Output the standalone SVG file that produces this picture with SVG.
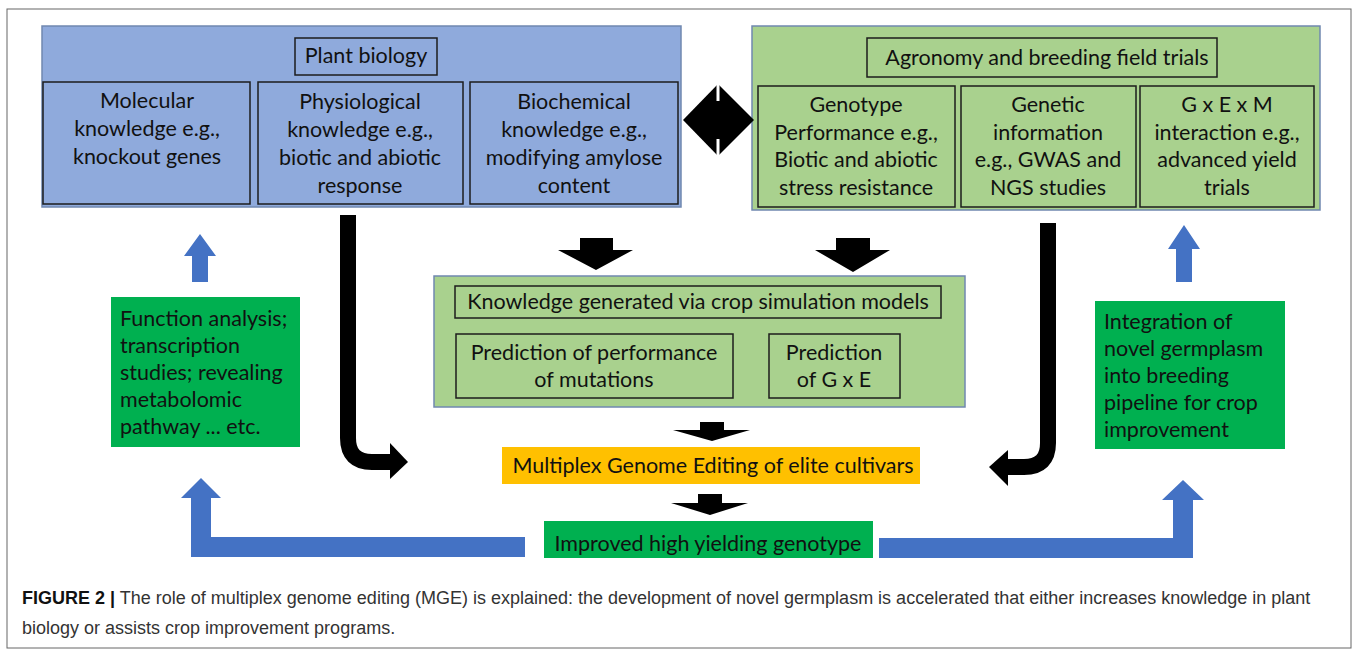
<svg xmlns="http://www.w3.org/2000/svg" width="1358" height="658" viewBox="0 0 1358 658">
<defs>
<style>
.t{font-family:Lato,"Open Sans","Liberation Sans",sans-serif;font-size:21.5px;fill:#111}
.c{text-anchor:middle}
.cap{font-family:"Liberation Sans",Arial,sans-serif;font-size:18px;fill:#333}
.box{stroke:#1c1c1c;stroke-width:1.5;fill:none}
.grp{stroke:#7088b0;stroke-width:1.5}
.blue{fill:#8faadc}
.lg{fill:#a9d18e}
.dg{fill:#00b050}
.blk{fill:#000}
.ba{fill:#4472c4}
</style>
</defs>
<rect x="7" y="9" width="1344" height="639" fill="#fff" stroke="#666" stroke-width="1"/>

<g id="plant-biology">
<rect x="42" y="26" width="639" height="181" class="blue grp"/>
<rect x="295" y="38" width="142" height="37" class="box"/>
<text x="366" y="63" class="t c">Plant biology</text>
</g>
<g id="molecular">
<rect x="43" y="82" width="207" height="122" class="box"/>
<text class="t c"><tspan x="147" y="108">Molecular</tspan><tspan x="147" y="136">knowledge e.g.,</tspan><tspan x="147" y="164">knockout genes</tspan></text>
</g>
<g id="physiological">
<rect x="258" y="82" width="205" height="122" class="box"/>
<text class="t c"><tspan x="360" y="109">Physiological</tspan><tspan x="360" y="137">knowledge e.g.,</tspan><tspan x="360" y="165">biotic and abiotic</tspan><tspan x="360" y="193">response</tspan></text>
</g>
<g id="biochemical">
<rect x="470" y="82" width="208" height="122" class="box"/>
<text class="t c"><tspan x="574" y="109">Biochemical</tspan><tspan x="574" y="137">knowledge e.g.,</tspan><tspan x="574" y="165">modifying amylose</tspan><tspan x="574" y="193">content</tspan></text>
</g>

<g id="agronomy">
<rect x="752" y="26" width="568" height="184" class="lg grp"/>
<rect x="867" y="38" width="350" height="39" class="box"/>
<text x="1047" y="65" class="t c">Agronomy and breeding field trials</text>
</g>
<g id="genotype">
<rect x="758" y="86" width="197" height="121" class="box"/>
<text class="t c"><tspan x="856" y="112">Genotype</tspan><tspan x="856" y="140">Performance e.g.,</tspan><tspan x="856" y="167">Biotic and abiotic</tspan><tspan x="856" y="195">stress resistance</tspan></text>
</g>
<g id="genetic">
<rect x="961" y="86" width="175" height="121" class="box"/>
<text class="t c"><tspan x="1048" y="112">Genetic</tspan><tspan x="1048" y="140">information</tspan><tspan x="1048" y="167">e.g., GWAS and</tspan><tspan x="1048" y="195">NGS studies</tspan></text>
</g>
<g id="gxexm">
<rect x="1140" y="86" width="174" height="121" class="box"/>
<text class="t c"><tspan x="1227" y="112">G x E x M</tspan><tspan x="1227" y="140">interaction e.g.,</tspan><tspan x="1227" y="167">advanced yield</tspan><tspan x="1227" y="195">trials</tspan></text>
</g>

<g id="crop-models">
<rect x="434" y="276" width="531" height="131" class="lg grp"/>
<rect x="455" y="286" width="486" height="32" class="box"/>
<text x="698" y="309" class="t c">Knowledge generated via crop simulation models</text>
</g>
<g id="pred-mutations">
<rect x="456" y="334" width="277" height="64" class="box"/>
<text class="t c"><tspan x="594" y="360">Prediction of performance</tspan><tspan x="594" y="387">of mutations</tspan></text>
</g>
<g id="pred-gxe">
<rect x="769" y="334" width="131" height="64" class="box"/>
<text class="t c"><tspan x="834" y="360">Prediction</tspan><tspan x="834" y="387">of G x E</tspan></text>
</g>

<g id="mge">
<rect x="502" y="447" width="418" height="37" fill="#ffc000"/>
<text x="713" y="473" class="t c">Multiplex Genome Editing of elite cultivars</text>
</g>
<g id="improved">
<rect x="544" y="521" width="329" height="37" class="dg"/>
<text x="708" y="551" class="t c">Improved high yielding genotype</text>
</g>
<g id="function-analysis">
<rect x="111" y="297" width="189" height="150" class="dg"/>
<text class="t"><tspan x="120" y="326">Function analysis;</tspan><tspan x="120" y="353">transcription</tspan><tspan x="120" y="380">studies; revealing</tspan><tspan x="120" y="407">metabolomic</tspan><tspan x="120" y="434">pathway ... etc.</tspan></text>
</g>
<g id="integration">
<rect x="1095" y="301" width="190" height="148" class="dg"/>
<text class="t"><tspan x="1104" y="329">Integration of</tspan><tspan x="1104" y="356">novel germplasm</tspan><tspan x="1104" y="383">into breeding</tspan><tspan x="1104" y="410">pipeline for crop</tspan><tspan x="1104" y="437">improvement</tspan></text>
</g>

<g id="connectors">
<polygon points="683,120 718,84 754,120 718,156" class="blk"/>
<line x1="718" y1="84" x2="718" y2="101" stroke="#fff" stroke-width="3"/>
<line x1="718" y1="139" x2="718" y2="156" stroke="#fff" stroke-width="3"/>
<polygon points="580,238 613,238 613,250 633,250 596,270 558,250 580,250" class="blk"/>
<polygon points="836,238 870,238 870,250 890,250 853,272 815,250 836,250" class="blk"/>
<polygon points="700,422 724,422 724,430 750,430 712,441 673,430 700,430" class="blk"/>
<polygon points="698,494 722,494 722,503 748,503 710,515 671,503 698,503" class="blk"/>
<path d="M348,215 V438 Q348,462 372,462 H394" fill="none" stroke="#000" stroke-width="16"/>
<polygon points="390,443 408,462 390,479" class="blk"/>
<path d="M1048,223 V443 Q1048,467 1024,467 H1004" fill="none" stroke="#000" stroke-width="16"/>
<polygon points="1008,450 989,467 1008,486" class="blk"/>
<polygon points="192,282 208,282 208,256 216,256 200,234 184,256 192,256" class="ba"/>
<polygon points="1176,282 1192,282 1192,249 1200,249 1184,225 1168,249 1176,249" class="ba"/>
<polygon points="525,537 525,557 191,557 191,498 181,498 201,478 221,498 211,498 211,537" class="ba"/>
<polygon points="879,538 879,558 1193,558 1193,500 1204,500 1183,480 1162,500 1173,500 1173,538" class="ba"/>
</g>

<g id="caption">
<text x="22" y="604" class="cap"><tspan font-weight="bold" fill="#111">FIGURE 2 |</tspan> The role of multiplex genome editing (MGE) is explained: the development of novel germplasm is accelerated that either increases knowledge in plant</text>
<text x="22" y="634" class="cap">biology or assists crop improvement programs.</text>
</g>
</svg>
